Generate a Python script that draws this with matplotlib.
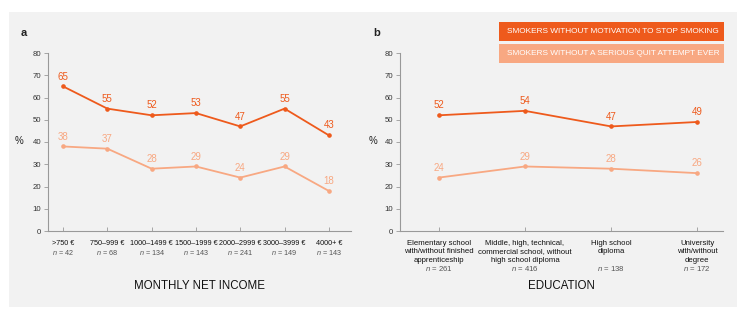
import numpy as np
import matplotlib
matplotlib.use("Agg")
from matplotlib import pyplot as plt
from matplotlib.patches import Rectangle

plt.rcParams['font.family'] = ['Liberation Sans', 'DejaVu Sans']
plt.rcParams['mathtext.fontset'] = 'custom'
plt.rcParams['mathtext.it'] = 'Liberation Sans:italic'
plt.rcParams['mathtext.rm'] = 'Liberation Sans'

# data
income_cats = ['>750 €', '750–999 €', '1000–1499 €', '1500–1999 €', '2000–2999 €', '3000–3999 €', '4000+ €']
income_n = [42, 68, 134, 143, 241, 149, 143]
income_motivation = [65, 55, 52, 53, 47, 55, 43]
income_quit = [38, 37, 28, 29, 24, 29, 18]

edu_cats = ['Elementary school\nwith/without finished\napprenticeship',
            'Middle, high, technical,\ncommercial school, without\nhigh school diploma',
            'High school\ndiploma',
            'University\nwith/without\ndegree']
edu_n = [261, 416, 138, 172]
edu_motivation = [52, 54, 47, 49]
edu_quit = [24, 29, 28, 26]

legend_labels = ['SMOKERS WITHOUT MOTIVATION TO STOP SMOKING',
                 'SMOKERS WITHOUT A SERIOUS QUIT ATTEMPT EVER']

dark = '#ee5a1c'
light = '#f8a882'
W, H = 750, 318

fig = plt.figure(figsize=(7.5, 3.18), dpi=100)
fig.patch.set_facecolor('white')
# gray background panel
fig.patches.append(Rectangle((9 / W, 1 - 307 / H), 728 / W, 295 / H,
                             transform=fig.transFigure, facecolor='#f2f2f2',
                             edgecolor='none', zorder=-5))


def make_panel(rect, cats, ns, s1, s2, xlim, letter, letter_x, pct_x, title, catsize):
    ax = fig.add_axes(rect)
    ax.set_facecolor('none')
    x = np.arange(len(cats))
    ax.plot(x, s1, color=dark, lw=1.3, marker='o', ms=2.3, zorder=3, clip_on=False)
    ax.plot(x, s2, color=light, lw=1.3, marker='o', ms=2.3, zorder=3, clip_on=False)
    for xi, v in zip(x, s1):
        ax.annotate(str(v), (xi, v), xytext=(0, 3.5), textcoords='offset points',
                    ha='center', va='bottom', fontsize=7, color=dark)
    for xi, v in zip(x, s2):
        ax.annotate(str(v), (xi, v), xytext=(0, 3.5), textcoords='offset points',
                    ha='center', va='bottom', fontsize=7, color=light)
    ax.set_ylim(0, 80)
    ax.set_xlim(*xlim)
    ax.set_yticks(range(0, 81, 10))
    ax.tick_params(axis='y', labelsize=5.6, length=3, width=0.6, color='#999999',
                   labelcolor='#333333', pad=2)
    ax.set_xticks(x)
    ax.set_xticklabels([])
    ax.tick_params(axis='x', direction='in', length=3, width=0.6, color='#999999')
    for s in ['top', 'right']:
        ax.spines[s].set_visible(False)
    for s in ['left', 'bottom']:
        ax.spines[s].set_color('#999999')
        ax.spines[s].set_linewidth(0.8)
    # category labels with n
    maxlines = max(c.count('\n') + 1 for c in cats)
    trans = ax.get_xaxis_transform()
    for xi, c, n in zip(x, cats, ns):
        ax.text(xi, -0.05, c, transform=trans, ha='center', va='top',
                fontsize=catsize, color='#111111', linespacing=1.3)
        ax.text(xi, -0.05 - 0.046 * maxlines, '$n$ = %d' % n, transform=trans,
                ha='center', va='top', fontsize=catsize, color='#555555')
    fig.text(letter_x, 1 - 33 / H, letter, fontsize=8, fontweight='bold',
             ha='left', va='center', color='#222222')
    fig.text(pct_x, 1 - 141 / H, '%', fontsize=7, ha='left', va='center',
             color='#222222')
    fig.text(rect[0] + rect[2] / 2, 1 - 286 / H, title, fontsize=8.3,
             ha='center', va='center', color='#111111')
    return ax


ax1 = make_panel([48 / W, 1 - 231 / H, 303 / W, 178 / H], income_cats, income_n,
                 income_motivation, income_quit, (-0.34, 6.5), 'a', 21 / W, 15 / W,
                 'MONTHLY NET INCOME', 5.2)
ax2 = make_panel([400 / W, 1 - 231 / H, 323 / W, 178 / H], edu_cats, edu_n,
                 edu_motivation, edu_quit, (-0.45, 3.3), 'b', 373 / W, 369 / W,
                 'EDUCATION', 5.6)

# legend boxes
for i, (lab, col) in enumerate(zip(legend_labels, [dark, light])):
    y0 = [22, 44][i]
    fig.patches.append(Rectangle((499 / W, 1 - (y0 + 19) / H), 225 / W, 19 / H,
                                 transform=fig.transFigure, facecolor=col,
                                 edgecolor='none', zorder=1))
    fig.text(507 / W, 1 - (y0 + 9.5) / H, lab, fontsize=5.95, color='white',
             ha='left', va='center', zorder=2)

plt.savefig('out.png', dpi=100)
